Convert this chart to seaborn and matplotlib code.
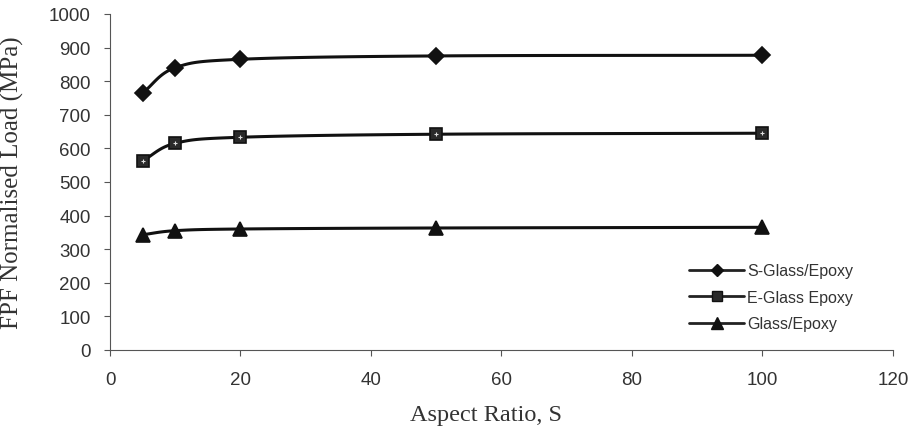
import numpy as np
import pandas as pd
import seaborn as sns
import matplotlib.pyplot as plt

aspect_ratio = [5, 10, 20, 50, 100]
s_glass = [765, 840, 865, 875, 877]
e_glass = [563, 615, 633, 642, 645]
glass = [343, 355, 360, 363, 365]

series_names = ["S-Glass/Epoxy", "E-Glass Epoxy", "Glass/Epoxy"]
x_ticks = [0, 20, 40, 60, 80, 100, 120]
y_ticks = [0, 100, 200, 300, 400, 500, 600, 700, 800, 900, 1000]


def smooth_curve(x, y, n=30):
    """Catmull-Rom style smoothing like Excel's smoothed line."""
    x = np.asarray(x, float)
    y = np.asarray(y, float)
    xs, ys = [], []
    for i in range(len(x) - 1):
        p0 = (x[i - 1], y[i - 1]) if i > 0 else (2 * x[i] - x[i + 1], 2 * y[i] - y[i + 1])
        p1 = (x[i], y[i])
        p2 = (x[i + 1], y[i + 1])
        p3 = (x[i + 2], y[i + 2]) if i + 2 < len(x) else (2 * x[i + 1] - x[i], 2 * y[i + 1] - y[i])
        c1 = (p1[0] + (p2[0] - p0[0]) / 6, p1[1] + (p2[1] - p0[1]) / 6)
        c2 = (p2[0] - (p3[0] - p1[0]) / 6, p2[1] - (p3[1] - p1[1]) / 6)
        t = np.linspace(0, 1, n)
        bx = (1 - t) ** 3 * p1[0] + 3 * (1 - t) ** 2 * t * c1[0] + 3 * (1 - t) * t ** 2 * c2[0] + t ** 3 * p2[0]
        by = (1 - t) ** 3 * p1[1] + 3 * (1 - t) ** 2 * t * c1[1] + 3 * (1 - t) * t ** 2 * c2[1] + t ** 3 * p2[1]
        xs.extend(bx)
        ys.extend(by)
    return np.array(xs), np.array(ys)


sns.set_style("white")
plt.rcParams["font.family"] = ["Liberation Sans", "DejaVu Sans"]

fig = plt.figure(figsize=(9.13, 4.39), dpi=100)
ax = fig.add_axes([0.1205, 0.2005, 0.8575, 0.7655])

markers = ["D", "s", "^"]
msizes = [8, 9, 10]
for name, vals, mk, ms in zip(series_names, [s_glass, e_glass, glass], markers, msizes):
    sx, sy = smooth_curve(aspect_ratio, vals)
    sns.lineplot(x=sx, y=sy, ax=ax, color="#111111", linewidth=2.2, sort=False)
    df = pd.DataFrame({"x": aspect_ratio, "y": vals})
    face = "#2a2a2a" if mk == "s" else "#111111"
    ax.plot(df["x"], df["y"], linestyle="none", marker=mk, markersize=ms,
            markerfacecolor=face, markeredgecolor="#111111", markeredgewidth=1.2)
    if mk == "s":
        ax.plot(df["x"], df["y"], linestyle="none", marker="+", markersize=3,
                color="#dddddd", markeredgewidth=0.8)
    ax.plot([], [], color="#222222", linewidth=2, marker=mk, markersize=ms - 2,
            markerfacecolor=face, markeredgecolor="#111111", label=name)

ax.set_xlim(0, 120)
ax.set_ylim(0, 1000)
ax.set_xticks(x_ticks)
ax.set_yticks(y_ticks)
ax.tick_params(axis="both", labelsize=13.5, labelcolor="#333333", color="#555555",
               length=4, width=0.8, direction="out", left=True, bottom=True)
ax.tick_params(axis="x", pad=11)
ax.tick_params(axis="y", pad=10)
for side in ["top", "right"]:
    ax.spines[side].set_visible(False)
for side in ["left", "bottom"]:
    ax.spines[side].set_color("#555555")
    ax.spines[side].set_linewidth(0.8)

ax.set_xlabel("Aspect Ratio, S", family=["Liberation Serif"], fontsize=17.5,
              color="#333333")
ax.set_ylabel("FPF Normalised Load (MPa)", family=["Liberation Serif"], fontsize=18,
              color="#333333")
ax.xaxis.set_label_coords(0.48, -0.16)
ax.yaxis.set_label_coords(-0.11, 0.5)

leg = ax.legend(loc="lower left", bbox_to_anchor=(0.74, 0.055), frameon=False,
                fontsize=11.5, handlelength=3.4, labelspacing=0.72, handletextpad=0.2,
                borderpad=0, borderaxespad=0)
for t in leg.get_texts():
    t.set_color("#333333")

fig.savefig("out.png", dpi=100)
